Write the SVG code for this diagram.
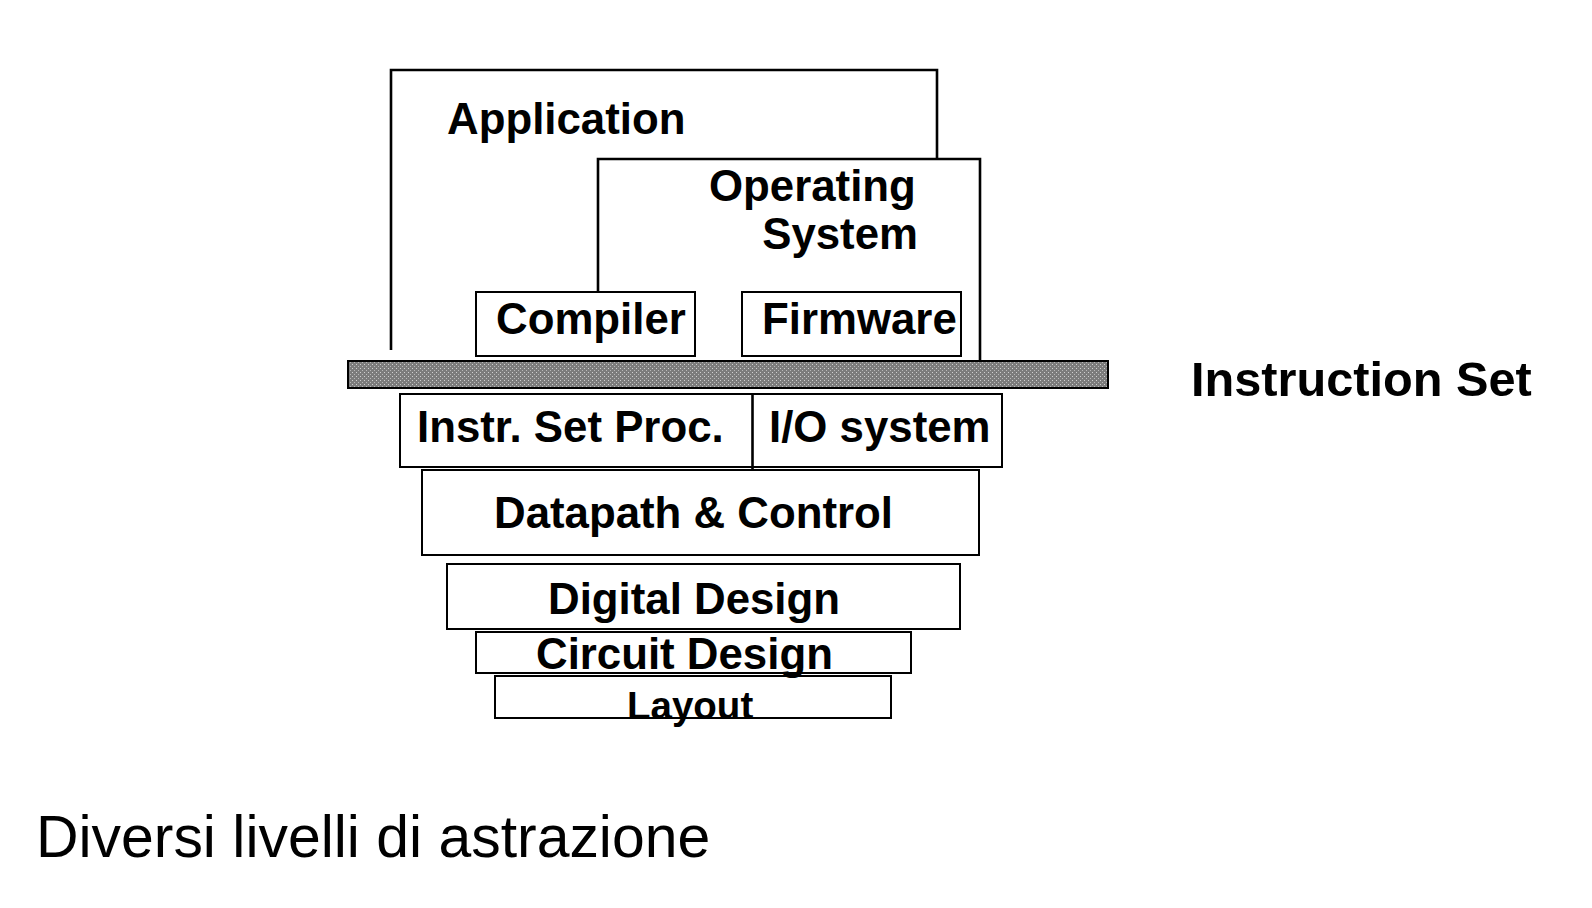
<svg xmlns="http://www.w3.org/2000/svg" width="1592" height="908" viewBox="0 0 1592 908">
<defs>
<pattern id="dots" width="4" height="4" patternUnits="userSpaceOnUse">
<rect width="4" height="4" fill="#7c7c7c"/>
<rect x="0" y="0" width="1" height="1" fill="#d0d0d0"/>
<rect x="2" y="2" width="1" height="1" fill="#b8b8b8"/>
</pattern>
</defs>
<style>
.bx{fill:#fff;stroke:#000;stroke-width:2}
.ln{fill:none;stroke:#000;stroke-width:2.6}
.t{font-family:"Liberation Sans",Arial,sans-serif;font-weight:bold;font-size:43.8px;fill:#000}
</style>
<rect width="1592" height="908" fill="#fff"/>
<g id="application">
<polyline class="ln" points="391,350 391,70 937,70 937,159"/>
<text class="t" x="447" y="134">Application</text>
</g>
<g id="operating-system">
<polyline class="ln" points="598,292 598,159 980,159 980,361"/>
<text class="t" x="709" y="201">Operating</text>
<text class="t" x="918" y="249" text-anchor="end">System</text>
</g>
<g id="compiler">
<rect class="bx" x="476" y="292" width="219" height="64"/>
<text class="t" x="496" y="334">Compiler</text>
</g>
<g id="firmware">
<rect class="bx" x="742" y="292" width="219" height="64"/>
<text class="t" x="762" y="334">Firmware</text>
</g>
<g id="instruction-set">
<rect x="348" y="361" width="760" height="27" fill="url(#dots)" stroke="#000" stroke-width="2"/>
<text class="t" x="1191" y="396" style="font-size:48.7px">Instruction Set</text>
</g>
<g id="isp-io">
<rect class="bx" x="400" y="394" width="602" height="73"/>
<line x1="752.5" y1="394" x2="752.5" y2="470" stroke="#000" stroke-width="2.6"/>
<text class="t" x="417" y="442">Instr. Set Proc.</text>
<text class="t" x="769" y="442">I/O system</text>
</g>
<g id="datapath-control">
<rect class="bx" x="422" y="470" width="557" height="85"/>
<text class="t" x="494" y="528">Datapath &amp; Control</text>
</g>
<g id="digital-design">
<rect class="bx" x="447" y="564" width="513" height="65"/>
<text class="t" x="548" y="614">Digital Design</text>
</g>
<g id="circuit-design">
<rect class="bx" x="476" y="632" width="435" height="41"/>
</g>
<g id="layout">
<rect class="bx" x="495" y="676" width="396" height="42"/>
<text class="t" x="627" y="719" style="font-size:38.5px">Layout</text>
</g>
<text class="t" x="536" y="669">Circuit Design</text>
<g id="connectors"/>
<text x="36" y="857" font-family="'Liberation Sans',Arial,sans-serif" font-size="58.9" fill="#000">Diversi livelli di astrazione</text>
</svg>
